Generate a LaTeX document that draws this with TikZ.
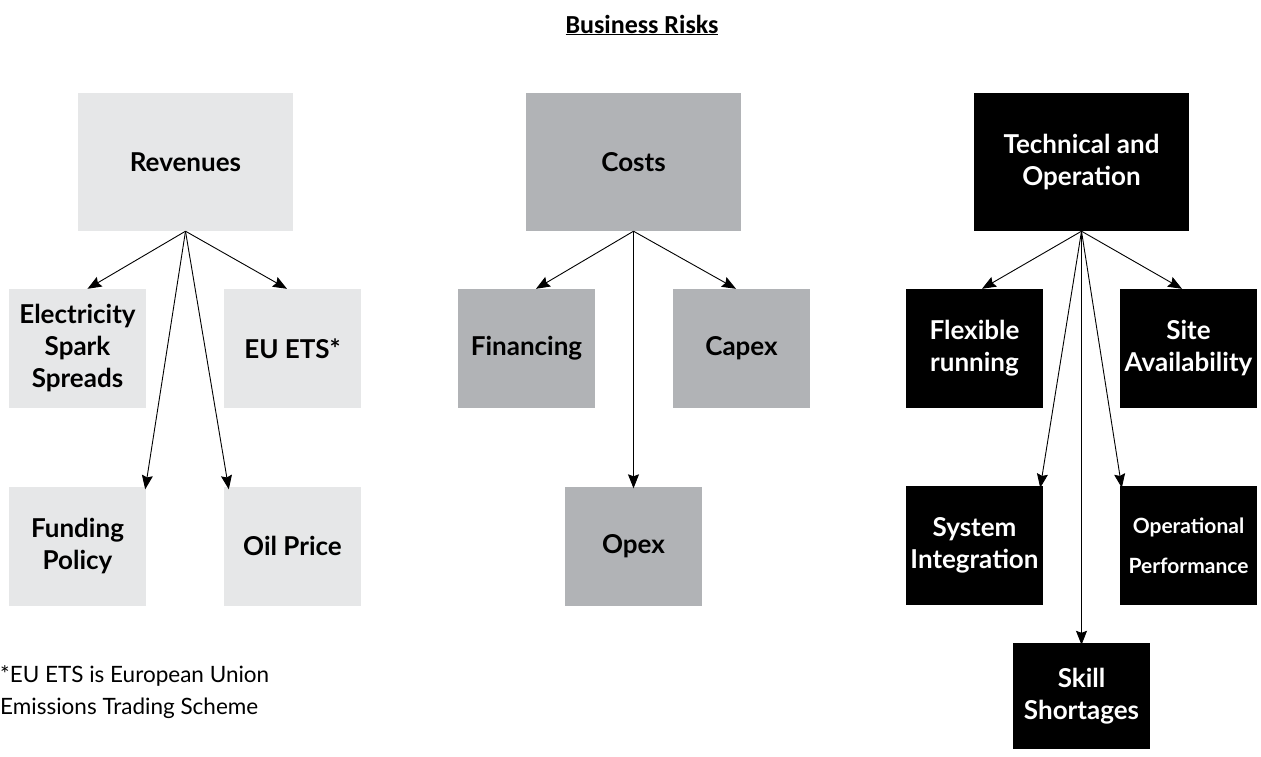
\documentclass[tikz,border=0pt]{standalone}
\usepackage{fontspec}
\setmainfont{Lato}
\newfontfamily\titlefont{Carlito}
\usetikzlibrary{arrows.meta}
\definecolor{revgray}{HTML}{E6E7E8}
\definecolor{costgray}{HTML}{B1B3B6}
\begin{document}
\begin{tikzpicture}[x=1pt,y=-1pt,
  box/.style={inner sep=0pt, align=center, font=\fontsize{26}{32}\selectfont\bfseries},
  topbox/.style={box, minimum width=215pt, minimum height=138pt},
  subbox/.style={box, minimum width=137pt, minimum height=119pt},
  revstyle/.style={fill=revgray, text=black},
  coststyle/.style={fill=costgray, text=black},
  techstyle/.style={fill=black, text=white},
  arr/.style={draw=black, line width=0.9pt, -{Stealth[length=14pt,width=11pt,inset=2pt]}}]
\useasboundingbox (0,0) rectangle (1261,756);
\node[font=\titlefont\fontsize{26}{30}\selectfont\bfseries] (title) at (642,25) {\underline{Business Risks}};
% Revenues
\node[topbox,revstyle] (rev) at (185.5,162) {Revenues};
\node[subbox,revstyle] (elec) at (77.5,348.5) {Electricity\\Spark\\Spreads};
\node[subbox,revstyle] (euets) at (292.5,348.5) {EU ETS*};
\node[subbox,revstyle] (fund) at (77.5,546) {Funding\\Policy};
\node[subbox,revstyle] (oil) at (292.5,546) {Oil Price};
% Costs
\node[topbox,coststyle] (costs) at (633.5,162) {Costs};
\node[subbox,coststyle] (fin) at (526.5,348.5) {Financing};
\node[subbox,coststyle] (capex) at (741.5,348.5) {Capex};
\node[subbox,coststyle] (opex) at (633.5,546) {Opex};
% Technical
\node[topbox,techstyle] (tech) at (1081.5,162) {Technical and\\Operation};
\node[subbox,techstyle] (flex) at (974.5,348.5) {Flexible\\running};
\node[subbox,techstyle] (site) at (1188.5,348.5) {Site\\Availability};
\node[subbox,techstyle] (sys) at (974.5,545.5) {System\\Integration};
\node[subbox,techstyle,font=\fontsize{21}{40}\selectfont\bfseries] (op) at (1188.5,545.5) {Operational\\Performance};
\node[box,techstyle,minimum width=137pt,minimum height=106pt] (skill) at (1081.5,696) {Skill\\Shortages};
% footnote
\node[anchor=north west, inner sep=0pt, align=left, font=\fontsize{22.5}{32}\selectfont] (note) at (0,665) {*EU ETS is European Union\\Emissions Trading Scheme};
% arrows
\draw[arr] (rev.south) -- ([xshift=10pt]elec.north);
\draw[arr] (rev.south) -- ([xshift=-5.5pt]euets.north);
\draw[arr] (rev.south) -- ([xshift=-1pt,yshift=-3pt]fund.north east);
\draw[arr] (rev.south) -- ([xshift=5pt,yshift=-3pt]oil.north west);
\draw[arr] (costs.south) -- ([xshift=9.5pt]fin.north);
\draw[arr] (costs.south) -- ([xshift=-5.5pt]capex.north);
\draw[arr] (costs.south) -- ([yshift=-2pt]costs.south |- opex.north);
\draw[arr] (tech.south) -- ([xshift=7.5pt]flex.north);
\draw[arr] (tech.south) -- ([xshift=-6.5pt]site.north);
\draw[arr] (tech.south) -- ([xshift=-3pt,yshift=-2pt]sys.north east);
\draw[arr] (tech.south) -- ([xshift=2pt,yshift=-2pt]op.north west);
\draw[arr] (tech.south) -- ([yshift=-2pt]tech.south |- skill.north);
\end{tikzpicture}
\end{document}
